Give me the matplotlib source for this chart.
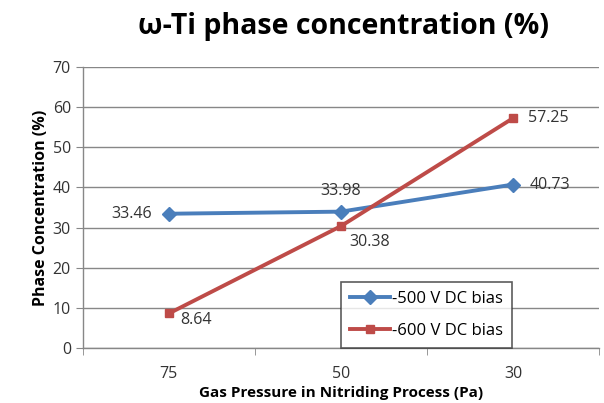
import matplotlib
matplotlib.use('Agg')
import matplotlib.pyplot as plt

# data
pressures = ['75', '50', '30']
bias_500 = [33.46, 33.98, 40.73]
bias_600 = [8.64, 30.38, 57.25]

plt.rcParams['font.family'] = ['Open Sans', 'DejaVu Sans']

fig = plt.figure(figsize=(6.04, 4.03), dpi=100)
ax = fig.add_axes([0.137, 0.136, 0.855, 0.698])

x = list(range(len(pressures)))
ax.plot(x, bias_500, color='#4A7EBB', marker='D', markersize=7, linewidth=2.8, label='-500 V DC bias')
ax.plot(x, bias_600, color='#BE4B48', marker='s', markersize=6, linewidth=2.8, label='-600 V DC bias')

# data labels
lab_500 = [(-12, 0, 'right', 'center'), (0, 9, 'center', 'bottom'), (12, 0, 'left', 'center')]
lab_600 = [(8, -5, 'left', 'center'), (6, -6, 'left', 'top'), (11, 0, 'left', 'center')]
for i, v in enumerate(bias_500):
    dx, dy, ha, va = lab_500[i]
    ax.annotate(f'{v:.2f}', (x[i], v), xytext=(dx, dy), textcoords='offset points',
                ha=ha, va=va, fontsize=11.5, color='#333333')
for i, v in enumerate(bias_600):
    dx, dy, ha, va = lab_600[i]
    ax.annotate(f'{v:.2f}', (x[i], v), xytext=(dx, dy), textcoords='offset points',
                ha=ha, va=va, fontsize=11.5, color='#333333')

ax.set_xlim(-0.5, 2.5)
ax.set_ylim(0, 70)
ax.set_yticks(range(0, 71, 10))
ax.set_xticks(x)
ax.set_xticklabels(pressures)
ax.set_xticks([-0.5, 0.5, 1.5, 2.5], minor=True)
ax.tick_params(axis='x', which='major', length=0, pad=13, labelsize=11.5, colors='#333333')
ax.tick_params(axis='x', which='minor', length=5, color='#878787')
ax.tick_params(axis='y', length=5, color='#878787', labelsize=11.5, labelcolor='#333333')

ax.grid(axis='y', color='#878787', linewidth=1)
ax.set_axisbelow(True)
for s in ['top', 'right']:
    ax.spines[s].set_visible(False)
for s in ['left', 'bottom']:
    ax.spines[s].set_color('#878787')
    ax.spines[s].set_linewidth(1)

ax.set_ylabel('Phase Concentration (%)', fontsize=11.5, fontweight='bold', labelpad=3)
ax.set_xlabel('Gas Pressure in Nitriding Process (Pa)', fontsize=11, fontweight='bold', labelpad=3)
fig.text(0.568, 0.935, 'ω-Ti phase concentration (%)', ha='center', va='center',
         fontsize=20.5, fontweight='bold')

leg = ax.legend(loc='lower left', bbox_to_anchor=(0.5, 0.0), fontsize=12, frameon=True,
                fancybox=False, borderpad=0.55, labelspacing=0.95, handlelength=2.4,
                handletextpad=0.1, borderaxespad=0)
leg.get_frame().set_edgecolor('#333333')
leg.get_frame().set_linewidth(1.2)

fig.savefig('out.png', dpi=100)
